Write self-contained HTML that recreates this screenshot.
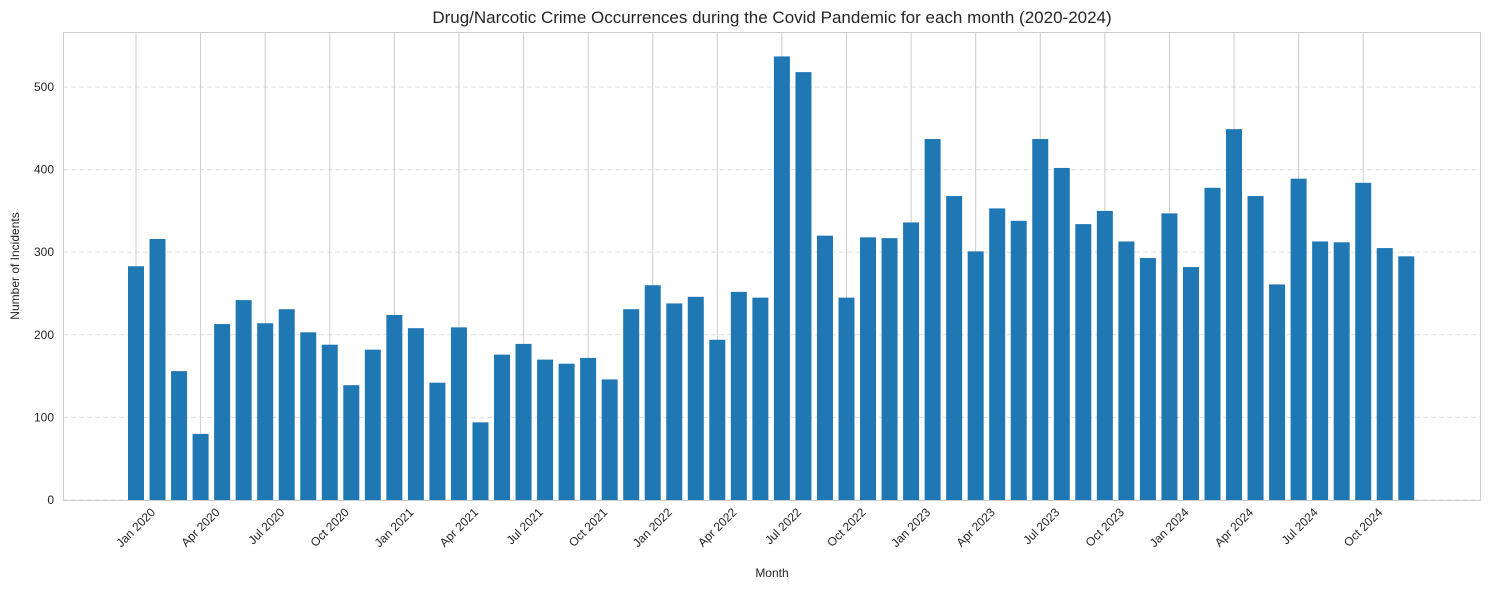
<!DOCTYPE html>
<html><head><meta charset="utf-8"><style>
body{margin:0;background:#fff;font-family:"Liberation Sans",sans-serif;}
svg text{font-family:"Liberation Sans",sans-serif;fill:#262626;}
</style></head><body>
<svg id="chart" width="1489" height="590">
<text x="772" y="23" font-size="17" text-anchor="middle">Drug/Narcotic Crime Occurrences during the Covid Pandemic for each month (2020-2024)</text>
<text x="772" y="577" font-size="12" text-anchor="middle">Month</text>
<text transform="translate(19,266) rotate(-90)" font-size="12" text-anchor="middle">Number of Incidents</text>
<g id="grid"></g><g id="bars"></g><g id="ticks"></g>
<rect x="63.5" y="32.5" width="1417" height="468" fill="none" stroke="#cccccc"/>
</svg>
<script>
const values=[283,316,156,80,213,242,214,231,203,188,139,182,224,208,142,209,94,176,189,170,165,172,146,231,260,238,246,194,252,245,537,518,320,245,318,317,336,437,368,301,353,338,437,402,334,350,313,293,347,282,378,449,368,261,389,313,312,384,305,295];
const monthNames=["Jan","Feb","Mar","Apr","May","Jun","Jul","Aug","Sep","Oct","Nov","Dec"];
const yTicks=[0,100,200,300,400,500];
const NS="http://www.w3.org/2000/svg";
const x0=136,dx=21.53,bw=16;
const xs=i=>x0+i*dx;
const ys=v=>500-v*0.826;
const grid=document.getElementById('grid'),bars=document.getElementById('bars'),ticks=document.getElementById('ticks');
function mk(tag,attrs,parent){const e=document.createElementNS(NS,tag);for(const k in attrs)e.setAttribute(k,attrs[k]);parent.appendChild(e);return e;}
yTicks.forEach(t=>{
  const l=mk('line',{x1:63,x2:1481,y1:ys(t),y2:ys(t),stroke:'#dddddd','stroke-dasharray':'5,3'},grid);
  
  
  const tx=mk('text',{x:54,y:ys(t)+4,'font-size':12,'text-anchor':'end'},ticks);
  tx.textContent=t;
  
  
});
values.forEach((v,i)=>{
  if(i%3===0){
    const l=mk('line',{x1:xs(i),x2:xs(i),y1:32,y2:500,stroke:'#cccccc'},grid);
    
    
    const label=monthNames[i%12]+' '+(2020+Math.floor(i/12));
    const tx=mk('text',{'font-size':12,'text-anchor':'end',transform:`translate(${xs(i)+20},${513}) rotate(-45)`},ticks);
    tx.textContent=label;
    
    
  }
  const r=mk('rect',{x:xs(i)-bw/2,y:ys(v),width:bw,height:500-ys(v),fill:'#1f77b4'},bars);
  
  
});
</script>
</body></html>
